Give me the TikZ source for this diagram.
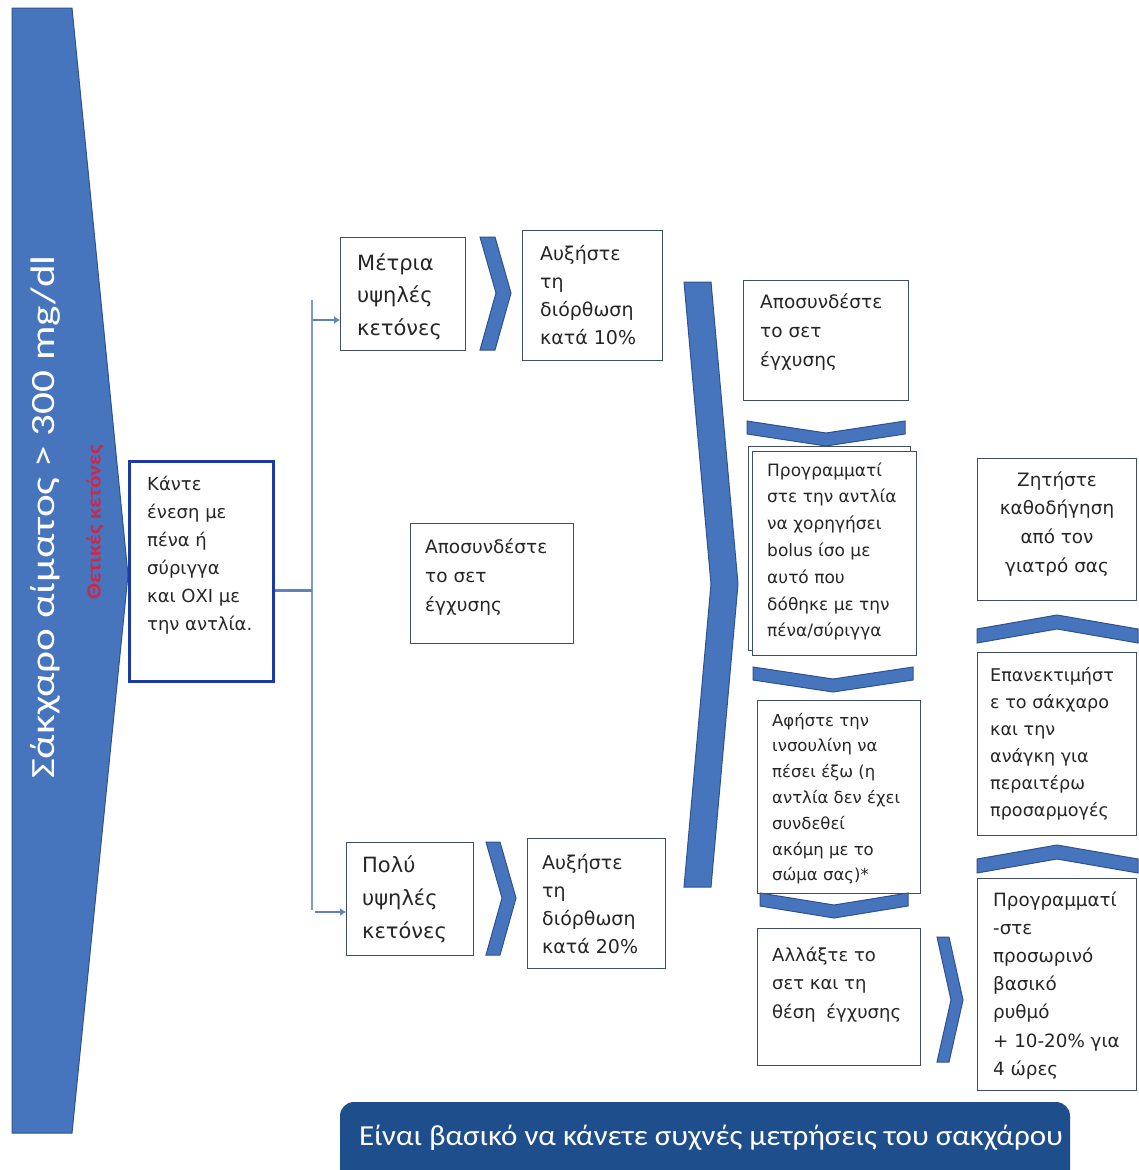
\documentclass[tikz,border=0pt]{standalone}
\usepackage{fontspec}
\setmainfont{DejaVu Sans}
\newfontfamily\carl{Carlito}
\usetikzlibrary{arrows.meta}
\definecolor{chev}{RGB}{70,117,190}
\definecolor{chevd}{RGB}{47,82,143}
\definecolor{boxd}{RGB}{63,77,102}
\definecolor{kblue}{RGB}{28,58,165}
\definecolor{band}{RGB}{31,78,140}
\definecolor{conn}{RGB}{95,130,185}
\definecolor{redk}{RGB}{205,40,75}
\begin{document}
\begin{tikzpicture}[x=1pt,y=-1pt,
  box/.style={draw=boxd, line width=1.3pt, fill=white, inner sep=0, anchor=north west},
  kbox/.style={draw=kblue, line width=3pt, fill=white, inner sep=0, anchor=north west},
  txt/.style={inner sep=0, anchor=base west, text=black!85},
  ctxt/.style={inner sep=0, anchor=base, text=black!85},
  chevs/.style={fill=chev, draw=chevd, line width=1pt, line join=miter},
  vline/.style={draw=conn!80, line width=1.5pt},
  hline/.style={draw=conn, line width=3pt},
  arr/.style={draw=conn, line width=2.5pt, -{Latex[length=6pt,width=8pt]}}
]
\useasboundingbox (0,0) rectangle (1138,1170);
\fill[white] (0,0) rectangle (1138,1170);

% big left shape
\filldraw[chevs] (12,8) -- (72,8) -- (128,575) -- (72,1133) -- (12,1133) -- cycle;
\node[rotate=90, text=white, inner sep=0, font={\carl\fontsize{34}{40}\selectfont}] (title) at (45,517) {\scalebox{1.27}[1]{Σάκχαρο αίματος > 300 mg/dl}};
\node[rotate=90, text=redk, inner sep=0, font={\carl\bfseries\fontsize{20}{24}\selectfont}] (posk) at (95,522) {\scalebox{1.18}[1]{Θετικές κετόνες}};

% boxes
\node[kbox, minimum width=144pt, minimum height=220pt] (kante) at (128,460) {};
\node[txt] (kante-t) at (147,490) {\parbox[t]{130pt}{\raggedright\fontsize{18}{28}\selectfont Κάντε\\ένεση με\\πένα ή\\σύριγγα\\και ΟΧΙ με\\την αντλία.}};

\node[box, minimum width=125pt, minimum height=113pt] (metria) at (340,237) {};
\node[txt] (metria-t) at (357,270) {\parbox[t]{120pt}{\raggedright\fontsize{21}{32.5}\selectfont Μέτρια\\υψηλές\\κετόνες}};

\node[box, minimum width=140pt, minimum height=130pt] (aux1) at (522,230) {};
\node[txt] (aux1-t) at (540,260) {\parbox[t]{130pt}{\raggedright\fontsize{19}{28}\selectfont Αυξήστε\\τη\\διόρθωση\\κατά 10\%}};

\node[box, minimum width=163pt, minimum height=120pt] (aposm) at (410,523) {};
\node[txt] (aposm-t) at (425,553) {\parbox[t]{150pt}{\raggedright\fontsize{18.5}{29}\selectfont Αποσυνδέστε\\το σετ\\έγχυσης}};

\node[box, minimum width=127pt, minimum height=113pt] (poly) at (346,842) {};
\node[txt] (poly-t) at (362,872) {\parbox[t]{120pt}{\raggedright\fontsize{21}{33}\selectfont Πολύ\\υψηλές\\κετόνες}};

\node[box, minimum width=138pt, minimum height=130pt] (aux2) at (527,838) {};
\node[txt] (aux2-t) at (542,869) {\parbox[t]{130pt}{\raggedright\fontsize{19}{28}\selectfont Αυξήστε\\τη\\διόρθωση\\κατά 20\%}};

\node[box, minimum width=165pt, minimum height=120pt] (aposr) at (743,280) {};
\node[txt] (aposr-t) at (760,308) {\parbox[t]{150pt}{\raggedright\fontsize{18.5}{29}\selectfont Αποσυνδέστε\\το σετ\\έγχυσης}};

\node[box, minimum width=162pt, minimum height=204pt] (prog1b) at (748,446) {};
\node[box, minimum width=164pt, minimum height=204pt] (prog1) at (752,451) {};
\node[txt] (prog1-t) at (767,476) {\parbox[t]{150pt}{\raggedright\fontsize{17}{26.8}\selectfont Προγραμματί\\στε την αντλία\\να χορηγήσει\\bolus ίσο με\\αυτό που\\δόθηκε με την\\πένα/σύριγγα}};

\node[box, minimum width=163pt, minimum height=193pt] (afiste) at (757,700) {};
\node[txt] (afiste-t) at (772,726) {\parbox[t]{150pt}{\raggedright\fontsize{16.5}{25.8}\selectfont Αφήστε την\\ινσουλίνη να\\πέσει έξω (η\\αντλία δεν έχει\\συνδεθεί\\ακόμη με το\\σώμα σας)*}};

\node[box, minimum width=163pt, minimum height=137pt] (allaxte) at (757,928) {};
\node[txt] (allaxte-t) at (772,961) {\parbox[t]{150pt}{\raggedright\fontsize{18}{28.5}\selectfont Αλλάξτε το\\σετ και τη\\θέση\hspace{5pt} έγχυσης}};

\node[box, minimum width=159pt, minimum height=142pt] (zit) at (977,458) {};
\node[ctxt] (zit-t) at (1057,486) {\parbox[t]{158pt}{\centering\fontsize{18.4}{28.7}\selectfont Ζητήστε\\καθοδήγηση\\από τον\\γιατρό σας}};

\node[box, minimum width=159pt, minimum height=183pt] (epan) at (977,652) {};
\node[txt] (epan-t) at (990,681) {\parbox[t]{150pt}{\raggedright\fontsize{17.6}{27}\selectfont Επανεκτιμήστ\\ε το σάκχαρο\\και την\\ανάγκη για\\περαιτέρω\\προσαρμογές}};

\node[box, minimum width=159pt, minimum height=212pt] (prog2) at (977,878) {};
\node[txt] (prog2-t) at (993,906) {\parbox[t]{150pt}{\raggedright\fontsize{18.3}{28.2}\selectfont Προγραμματί\\-στε\\προσωρινό\\βασικό\\ρυθμό\\+ 10-20\% για\\4 ώρες}};

% connectors
\coordinate (jtop) at (312,300);
\coordinate (jbot) at (312,910);
\coordinate (jm) at (312,590);
\coordinate (ja) at (312,320);
\coordinate (jb) at (315,912);
\draw[vline] (jtop) -- (jbot);
\draw[hline] (jm -| kante.east) -- (jm);
\draw[arr] (ja) -- (ja -| metria.west);
\draw[arr] (jb) -- (jb -| poly.west);

% right-pointing chevrons
\filldraw[chevs] (480,237) -- (495,237) -- (511,293) -- (495,350) -- (480,350) -- (496,293) -- cycle;
\filldraw[chevs] (486,842) -- (500,842) -- (516,898) -- (500,955) -- (486,955) -- (502,898) -- cycle;
\filldraw[chevs] (937,937) -- (949,937) -- (963,1000) -- (949,1062) -- (937,1062) -- (951,1000) -- cycle;
\filldraw[chevs] (684,282) -- (711,282) -- (738,584) -- (711,887) -- (684,887) -- (711,584) -- cycle;

% down chevrons
\filldraw[chevs] (747,421) -- (826,433) -- (905,421) -- (905,434) -- (826,446) -- (747,434) -- cycle;
\filldraw[chevs] (753,667) -- (833,679) -- (913,667) -- (913,680) -- (833,692) -- (753,680) -- cycle;
\filldraw[chevs] (760,893) -- (834,905) -- (908,893) -- (908,906) -- (834,918) -- (760,906) -- cycle;

% up chevrons
\filldraw[chevs] (977,643) -- (1057,629) -- (1138,643) -- (1138,629) -- (1057,615) -- (977,629) -- cycle;
\filldraw[chevs] (977,873) -- (1057,859) -- (1138,873) -- (1138,859) -- (1057,845) -- (977,859) -- cycle;

% banner
\fill[band] (340,1172) [rounded corners=14pt] -- (340,1102) -- (1070,1102) [sharp corners] -- (1070,1172) -- cycle;
\node[text=white, inner sep=0, font={\carl\fontsize{29}{33}\selectfont}] (banner) at (711,1138) {\scalebox{1.07}[1]{Είναι βασικό να κάνετε συχνές μετρήσεις του σακχάρου}};
\end{tikzpicture}
\end{document}
